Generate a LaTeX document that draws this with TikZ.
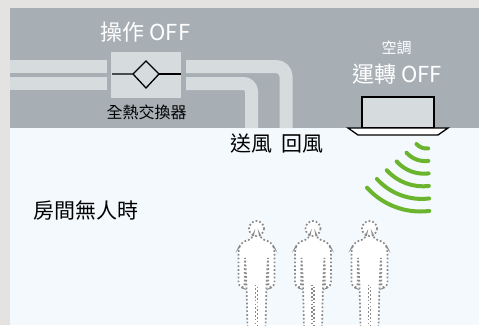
\documentclass[tikz,border=0pt]{standalone}
\usepackage{fontspec}
\setmainfont{Noto Sans CJK TC}
\definecolor{outerbg}{HTML}{E4E3E1}
\definecolor{ceiling}{HTML}{A7AEB4}
\definecolor{duct}{HTML}{D6DBDD}
\definecolor{room}{HTML}{F4F9FE}
\definecolor{wave}{HTML}{6BB52E}
\definecolor{dots}{HTML}{8A8A8A}
\tikzset{
  lbl/.style={inner sep=0pt, anchor=center},
  big/.style={lbl, font=\fontsize{21}{25}\selectfont},
  status/.style={lbl, text=white, font=\fontsize{22}{26}\selectfont},
  ductband/.style={draw=duct, line width=13pt, line cap=butt},
  unitline/.style={draw=black, line width=1.3pt, line join=miter},
  waveline/.style={draw=wave, line width=4pt, line cap=round},
  dotline/.style={draw=dots, line width=1.7pt, dash pattern=on 1.7pt off 2.1pt},
  person/.pic={
    % body silhouette
    \fill[white] (-4,7) -- (-4,10) -- (-15,14) -- (-18,20) -- (-18,58) -- (-12,60)
      -- (-10,45) -- (-9,100) -- (9,100) -- (10,45) -- (12,60) -- (18,58)
      -- (18,20) -- (15,14) -- (4,10) -- (4,7) -- cycle;
    \fill[white] (0,0) circle[radius=7.5];
    % dotted outline
    \draw[dotline] (0,0) circle[radius=7.5];
    \draw[dotline, rounded corners=4pt] (-3.5,7.5) -- (-4,10) -- (-15,14) -- (-18,20)
      -- (-18,58) -- (-12,60) -- (-11.5,27) -- (-10,56) -- (-9,100);
    \draw[dotline, rounded corners=4pt] (3.5,7.5) -- (4,10) -- (15,14) -- (18,20)
      -- (18,58) -- (12,60) -- (11.5,27) -- (10,56) -- (9,100);
    \draw[dotline] (-0.9,56) -- (-0.9,100);
    \draw[dotline] (0.9,58) -- (0.9,100);
  }
}
\begin{document}
\begin{tikzpicture}[x=1pt,y=-1pt]
\useasboundingbox (0,0) rectangle (479,325);

% backgrounds: frame, ceiling void, room
\fill[outerbg] (0,0) rectangle (479,325);
\fill[ceiling] (10,8) rectangle (479,128);
\fill[room] (10,128) rectangle (479,325);

% ducts to the heat exchanger
\draw[ductband] (10,66.5) -- (107,66.5);
\draw[ductband] (10,83.5) -- (107,83.5);
\draw[ductband, rounded corners=10pt] (186,66.5) -- (286,66.5) -- (286,128);
\draw[ductband, rounded corners=8pt] (186,83.5) -- (251.5,83.5) -- (251.5,128);

% heat exchanger box with its symbol
\node[fill=duct, minimum width=70pt, minimum height=46pt, inner sep=0pt] (erv) at (146,75) {};
\coordinate (ervL) at (112,74);
\coordinate (ervR) at (181,74);
\draw[black, line width=1.3pt] (ervL) -- (133,74) -- (146,61) -- (159,74) -- (146,88) -- (133,74);
\draw[black, line width=1.3pt] (159,74) -- (ervR);

% ceiling cassette unit
\draw[unitline, fill=duct] (362,97) rectangle (434,128);
\draw[unitline, fill=white] (348,128) -- (448,128) -- (438,135) -- (358,135) -- cycle;

% labels
\node[status] (op) at (145.5,32) {操作 OFF};
\node[lbl, font=\fontsize{16}{19}\selectfont] (erlbl) at (146.5,112) {全熱交換器};
\node[lbl, text=white, font=\fontsize{15}{18}\selectfont] (ac) at (396.5,48) {空調};
\node[status] (run) at (397,74) {運轉 OFF};
\node[big] (sup) at (251,144) {送風};
\node[big] (ret) at (302,144) {回風};
\node[big] (empty) at (85.5,210) {房間無人時};

% sensor waves
\foreach \k in {0,...,5}{
  \pgfmathsetmacro{\r}{13.5+11.7*\k}
  \pgfmathsetmacro{\cx}{426.5-1.2*\k}
  \pgfmathsetmacro{\cy}{135+0.9*\k}
  \draw[waveline] ({\cx+\r*cos(138)},{\cy+\r*sin(138)}) arc[start angle=138, end angle=83, radius=\r];
}

% occupants (absent)
\pic at (256.5,228.5) {person};
\pic at (313,228.5) {person};
\pic at (369.5,228.5) {person};
\end{tikzpicture}
\end{document}
